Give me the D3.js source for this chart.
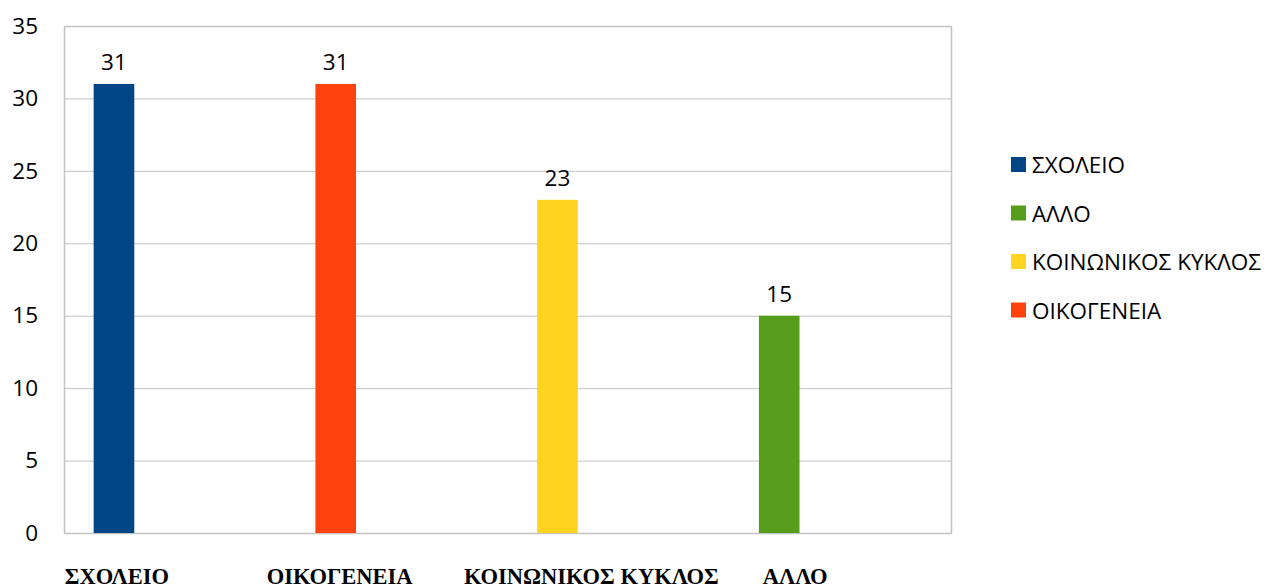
<!DOCTYPE html>
<html>
<head>
<meta charset="utf-8">
<script src="https://cdn.jsdelivr.net/npm/d3@7"></script>
<style>
  body { margin: 0; background: #fff; }
  text { font-family: "Open Sans", "Noto Sans", sans-serif; fill: #000; }
</style>
</head>
<body>
<script>
// data
var categories = ["ΣΧΟΛΕΙΟ", "ΟΙΚΟΓΕΝΕΙΑ", "ΚΟΙΝΩΝΙΚΟΣ ΚΥΚΛΟΣ", "ΑΛΛΟ"];
var values = [31, 31, 23, 15];
var barColors = ["#004586", "#ff420e", "#ffd320", "#579d1c"];
var legendNames = ["ΣΧΟΛΕΙΟ", "ΑΛΛΟ", "ΚΟΙΝΩΝΙΚΟΣ ΚΥΚΛΟΣ", "ΟΙΚΟΓΕΝΕΙΑ"];
var legendColors = ["#004586", "#579d1c", "#ffd320", "#ff420e"];
var yTicks = [0, 5, 10, 15, 20, 25, 30, 35];

// layout
var w = 1267, h = 588;
var plotLeft = 64, plotRight = 951, plotTop = 26, plotBottom = 533;
var labelNudge = [-58, -57, -27, -45]; // category labels sit a bit left of band centre
var fontSize = "22.5px";

var svg = d3.select("body")
  .append("svg")
  .attr("width", w)
  .attr("height", h);

var xScale = d3.scaleBand()
  .domain(categories)
  .range([plotLeft, plotRight])
  .padding(0);

// each category has 4 slots, the bar sits in the first one
var slot = d3.scaleBand()
  .domain([0, 1, 2, 3])
  .range([0, xScale.bandwidth()])
  .paddingInner(0)
  .paddingOuter(0.73);

var yScale = d3.scaleLinear()
  .domain([0, 35])
  .range([plotBottom, plotTop]);

// grid
svg.append("g")
  .selectAll("line")
  .data(yTicks)
  .enter()
  .append("line")
  .attr("x1", plotLeft)
  .attr("x2", plotRight)
  .attr("y1", d => yScale(d) + 0.5)
  .attr("y2", d => yScale(d) + 0.5)
  .attr("stroke", "#c3c3c3")
  .attr("stroke-width", 1);

// frame
svg.append("rect")
  .attr("x", plotLeft + 0.5)
  .attr("y", plotTop + 0.5)
  .attr("width", plotRight - plotLeft)
  .attr("height", plotBottom - plotTop)
  .attr("fill", "none")
  .attr("stroke", "#c3c3c3")
  .attr("stroke-width", 1.5);

// y axis
var yAxis = d3.axisLeft(yScale)
  .tickValues(yTicks)
  .tickSize(0)
  .tickPadding(26);

var yg = svg.append("g")
  .attr("transform", "translate(" + plotLeft + ",0)")
  .call(yAxis);
yg.select(".domain").remove();
yg.selectAll("text")
  .style("font-family", "'Open Sans', 'Noto Sans', sans-serif")
  .style("font-size", fontSize)
  .attr("fill", "#000");

// bars
svg.append("g")
  .selectAll("rect")
  .data(categories)
  .enter()
  .append("rect")
  .attr("x", d => xScale(d) + slot(0))
  .attr("y", (d, i) => yScale(values[i]))
  .attr("width", slot.bandwidth())
  .attr("height", (d, i) => yScale(0) - yScale(values[i]))
  .attr("fill", (d, i) => barColors[i]);

// value labels
svg.append("g")
  .selectAll("text")
  .data(categories)
  .enter()
  .append("text")
  .attr("x", d => xScale(d) + slot(0) + slot.bandwidth() / 2)
  .attr("y", (d, i) => yScale(values[i]) - 14)
  .attr("text-anchor", "middle")
  .style("font-size", fontSize)
  .text((d, i) => values[i]);

// category labels
svg.append("g")
  .selectAll("text")
  .data(categories)
  .enter()
  .append("text")
  .attr("x", (d, i) => xScale(d) + xScale.bandwidth() / 2 + labelNudge[i])
  .attr("y", 584)
  .attr("text-anchor", "middle")
  .style("font-family", "'Liberation Serif', 'Times New Roman', serif")
  .style("font-weight", "bold")
  .style("font-size", "22.5px")
  .text(d => d);

// legend
var legend = svg.append("g")
  .attr("transform", "translate(1011,157)");

var items = legend.selectAll("g")
  .data(legendNames)
  .enter()
  .append("g")
  .attr("transform", (d, i) => "translate(0," + (i * 48.5) + ")");

items.append("rect")
  .attr("width", 15)
  .attr("height", 15)
  .attr("fill", (d, i) => legendColors[i]);

items.append("text")
  .attr("x", 21)
  .attr("y", 16)
  .style("font-size", fontSize)
  .text(d => d);
</script>
</body>
</html>
